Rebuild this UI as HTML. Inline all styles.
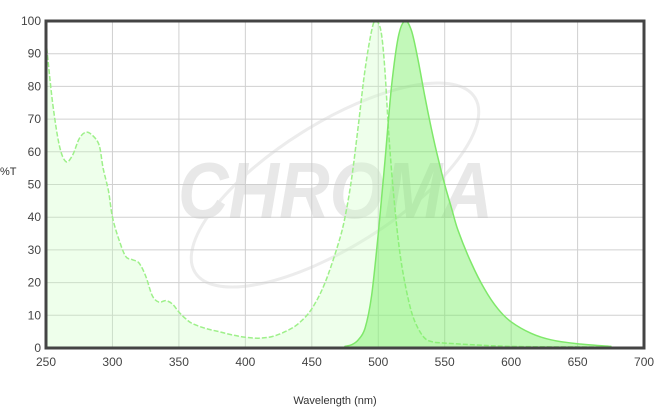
<!DOCTYPE html>
<html><head><style>
body{margin:0;background:#fff;width:662px;height:414px;overflow:hidden;font-family:"Liberation Sans",sans-serif}
</style></head><body>
<svg id="s" width="662" height="414" xmlns="http://www.w3.org/2000/svg" font-family="Liberation Sans, sans-serif">
<g id="grid" stroke="#d0d0d0" stroke-width="1"></g>
<g opacity="0.4">
<ellipse cx="335" cy="185" rx="165" ry="62" transform="rotate(-32 335 185)" fill="none" stroke="#d0d0d0" stroke-width="3"/>
<text x="178" y="218" font-size="80" font-weight="bold" font-style="italic" fill="#c8c8c8" textLength="315" lengthAdjust="spacingAndGlyphs">CHROMA</text>
</g>
<path id="ex" fill="rgba(200,255,190,0.3)" stroke="#9ef08a" stroke-width="1.5" stroke-dasharray="5,2"/>
<path id="em" fill="rgba(120,240,100,0.45)" stroke="#7fe86a" stroke-width="1.5"/>
<rect x="46" y="21" width="598" height="327" fill="none" stroke="#444" stroke-width="3"/>
<g id="lbl" font-size="12" fill="#444"></g>
<text x="0" y="175" font-size="11" fill="#333">%T</text>
<text x="335" y="404" font-size="11" fill="#333" text-anchor="middle">Wavelength (nm)</text>
</svg>
<script>
var X=w=>46+(w-250)*1.329,Y=v=>348-v*3.27;
var g=document.getElementById('grid'),l=document.getElementById('lbl'),ns="http://www.w3.org/2000/svg";
function el(p,t,a,txt){var e=document.createElementNS(ns,t);for(var k in a)e.setAttribute(k,a[k]);if(txt!==undefined)e.textContent=txt;p.appendChild(e);}
for(var w=250;w<=700;w+=50){el(g,'line',{x1:X(w),x2:X(w),y1:21,y2:348});el(l,'text',{x:X(w),y:366,'text-anchor':'middle'},String(w));}
for(var v=0;v<=100;v+=10){el(g,'line',{x1:46,x2:644,y1:Y(v),y2:Y(v)});el(l,'text',{x:41,y:Y(v)+4,'text-anchor':'end'},String(v));}
var ex=[[250,94],[255,75],[260,62],[265,57],[270,59],[275,64],[280,66],[285,65],[290,62],[293,55],[297,48],[300,40],[305,33],[310,28],[315,27],[320,26],[325,22],[330,16],[335,14],[340,14.5],[345,13.5],[350,11],[355,9],[360,7.5],[370,6],[380,5],[390,4],[400,3.3],[410,3],[420,3.5],[430,5],[440,7.5],[450,12],[460,20],[470,32],[475,40],[480,52],[485,68],[490,85],[495,97],[498,100],[502,97],[505,85],[508,65],[512,45],[516,30],[520,20],[525,11],[530,6],[535,3],[540,2],[550,1.5],[600,0.5],[675,0.3]];
var em=[[475,0.5],[480,1],[485,2.5],[490,6],[495,16],[500,35],[505,57],[510,80],[515,95],[520,100],[525,97],[530,88],[535,77],[540,67],[545,58],[550,50],[555,43],[560,36],[570,26],[580,18],[590,12],[600,8],[615,4.5],[630,2.5],[650,1.3],[675,0.5]];
function P(a){var p=a.map(q=>[X(q[0]),Y(q[1])]);var s="M"+p[0][0]+","+Y(0)+" L"+p[0][0].toFixed(1)+","+p[0][1].toFixed(1);
for(var i=0;i<p.length-1;i++){var p0=p[Math.max(i-1,0)],p1=p[i],p2=p[i+1],p3=p[Math.min(i+2,p.length-1)];
s+=" C"+(p1[0]+(p2[0]-p0[0])/6).toFixed(1)+","+(p1[1]+(p2[1]-p0[1])/6).toFixed(1)+" "+(p2[0]-(p3[0]-p1[0])/6).toFixed(1)+","+(p2[1]-(p3[1]-p1[1])/6).toFixed(1)+" "+p2[0].toFixed(1)+","+p2[1].toFixed(1);}
return s+" L"+p[p.length-1][0]+","+Y(0)+"Z";}
document.getElementById('ex').setAttribute('d',P(ex));
document.getElementById('em').setAttribute('d',P(em));
</script>
</body></html>
